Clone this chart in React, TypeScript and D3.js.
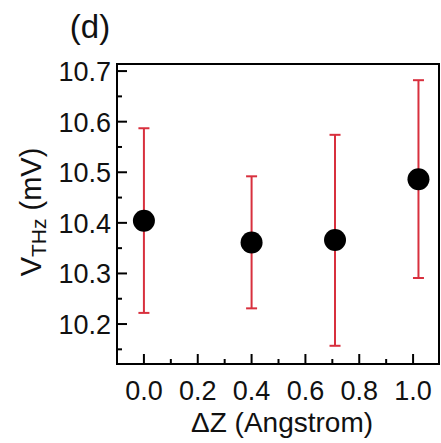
import React from "react";
import * as d3 from "d3";

const dz = [0.0, 0.4, 0.71, 1.02];
const vthz = [10.404, 10.361, 10.366, 10.486];
const errHigh = [10.587, 10.492, 10.574, 10.682];
const errLow = [10.222, 10.231, 10.157, 10.291];
const xTicks = [0.0, 0.2, 0.4, 0.6, 0.8, 1.0];
const xMinor = [0.1, 0.3, 0.5, 0.7, 0.9];
const yTicks = [10.2, 10.3, 10.4, 10.5, 10.6, 10.7];
const yMinor = [10.15, 10.25, 10.35, 10.45, 10.55, 10.65];

const W = 441, H = 443;
const L = 117, R = 440, T = 64, B = 364;
const FONT = "'Liberation Sans', Arial, Helvetica, sans-serif";

export default function App() {
  const x = d3.scaleLinear().domain([-0.1, 1.1]).range([L, R]);
  const y = d3.scaleLinear().domain([10.121, 10.714]).range([B, T]);
  const red = "#d8303e";
  return (
    <div style={{ position: "absolute", left: 0, top: 0 }}>
      <svg width={W} height={H} style={{ display: "block", background: "#fff" }}>
        {dz.map((d, i) => (
          <g key={"e" + i} stroke={red} strokeWidth={2}>
            <line x1={x(d)} x2={x(d)} y1={y(errLow[i])} y2={y(errHigh[i])} />
            <line x1={x(d) - 5.5} x2={x(d) + 5.5} y1={y(errLow[i])} y2={y(errLow[i])} />
            <line x1={x(d) - 5.5} x2={x(d) + 5.5} y1={y(errHigh[i])} y2={y(errHigh[i])} />
          </g>
        ))}
        {dz.map((d, i) => (
          <circle key={"p" + i} cx={x(d)} cy={y(vthz[i])} r={11} fill="#000" />
        ))}
        <g stroke="#000" strokeWidth={2}>
          {xTicks.map((t) => (
            <line key={"xt" + t} x1={x(t)} x2={x(t)} y1={B} y2={B - 10} />
          ))}
          {xMinor.map((t) => (
            <line key={"xm" + t} x1={x(t)} x2={x(t)} y1={B} y2={B - 5} />
          ))}
          {yTicks.map((t) => (
            <line key={"yt" + t} x1={L} x2={L + 10} y1={y(t)} y2={y(t)} />
          ))}
          {yMinor.map((t) => (
            <line key={"ym" + t} x1={L} x2={L + 5} y1={y(t)} y2={y(t)} />
          ))}
        </g>
        <rect x={L} y={T} width={R - L - 1} height={B - T} fill="none" stroke="#000" strokeWidth={2} />
        <g style={{ fontFamily: FONT }} fontSize={27} fill="#111">
          {xTicks.map((t) => (
            <text key={"xl" + t} x={x(t)} y={400} textAnchor="middle">
              {d3.format(".1f")(t)}
            </text>
          ))}
          {yTicks.map((t) => (
            <text key={"yl" + t} x={111} y={y(t) + 10} textAnchor="end">
              {d3.format(".1f")(t)}
            </text>
          ))}
        </g>
        <text x={282} y={432} textAnchor="middle" style={{ fontFamily: FONT }} fontSize={28} fill="#111">
          ΔZ (Angstrom)
        </text>
        <text
          transform={`translate(41,212) rotate(-90)`}
          textAnchor="middle"
          style={{ fontFamily: FONT }}
          fontSize={29}
          fill="#111"
        >
          V<tspan fontSize={21} dy={5}>THz</tspan>
          <tspan dy={-5}> (mV)</tspan>
        </text>
        <text x={90} y={38} textAnchor="middle" style={{ fontFamily: FONT }} fontSize={33} fill="#111">
          (d)
        </text>
      </svg>
    </div>
  );
}
